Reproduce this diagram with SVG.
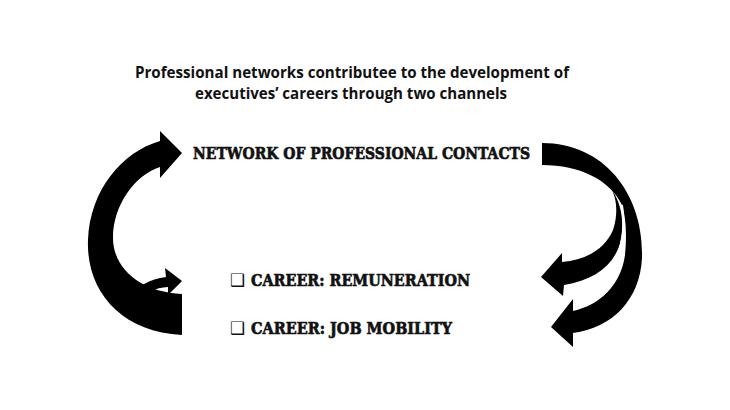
<svg xmlns="http://www.w3.org/2000/svg" width="730" height="410" viewBox="0 0 730 410">
<style>
.title{font-family:"Open Sans","Liberation Sans",sans-serif;font-weight:bold;font-size:16px;fill:#111;text-anchor:middle}
.stencil{font-family:"DejaVu Serif","Liberation Serif",serif;font-weight:900;fill:#111;stroke:#111;stroke-width:0.7}
.arrow{fill:#000}
.box{font-family:"DejaVu Sans",sans-serif;font-size:17px;fill:#111}
</style>
<rect width="730" height="410" fill="#fff"/>
<g id="title">
<text class="title" x="352" y="78" textLength="434" lengthAdjust="spacingAndGlyphs">Professional networks contributee to the development of</text>
<text class="title" x="351" y="99" textLength="312" lengthAdjust="spacingAndGlyphs">executives’ careers through two channels</text>
</g>
<g id="network">
<text class="stencil" x="193" y="159" font-size="17" textLength="337" lengthAdjust="spacingAndGlyphs">NETWORK OF PROFESSIONAL CONTACTS</text>
</g>
<g id="remuneration">
<text class="box" x="230" y="286">❑</text>
<text class="stencil" x="251" y="286" font-size="17" textLength="219" lengthAdjust="spacingAndGlyphs">CAREER: REMUNERATION</text>
</g>
<g id="mobility">
<text class="box" x="230" y="334">❑</text>
<text class="stencil" x="251" y="334" font-size="17" textLength="201" lengthAdjust="spacingAndGlyphs">CAREER: JOB MOBILITY</text>
</g>
<g id="connectors">
<path class="arrow" d="M182,335 C120,332 86,290 88,240 C90,190 122,152 160,141 L160,131 L182,153 L160,178 L160,167 C135,175 113,205 113,238 C113,268 140,292 182,294 Z"/>
<path class="arrow" d="M129,300 C136,286 150,279 166,277 L165,268 L182,281 L168,295 L168,287 C155,288 146,292 139,301 Z"/>
<path class="arrow" d="M542,143 C605,143 644,195 642,258 C640,300 612,328 573,333 L573,347 L551,327 L573,299 L573,311 C600,305 621,285 625,255 C627,235 626,218 622,205 C610,180 580,165 542,165 Z"/>
<path class="arrow" d="M612,190 C622,205 624,222 621,240 C615,265 595,280 564,285 L563,296 L541,277 L562,253 L562,262 C588,260 606,247 613,230 C618,215 617,200 612,190 Z"/>
<path d="M622,205 C626,230 622,262 600,278 C590,284 578,286 566,287" fill="none" stroke="#fff" stroke-width="2"/>
</g>
</svg>
